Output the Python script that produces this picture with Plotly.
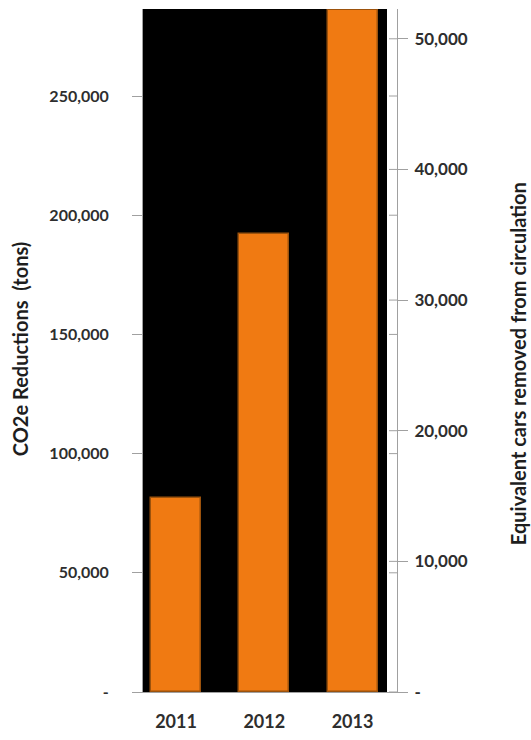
import plotly.graph_objects as go

# Annual CO2e reductions and the equivalent number of cars taken off the road
years = ["2011", "2012", "2013"]
co2e_tons = [81400, 192000, 286000]

left_ticks = [0, 50000, 100000, 150000, 200000, 250000]
left_labels = ["-", "50,000", "100,000", "150,000", "200,000", "250,000"]
right_ticks = [0, 10000, 20000, 30000, 40000, 50000]
right_labels = ["-", "10,000", "20,000", "30,000", "40,000", "50,000"]

W, H = 531, 740
L, R, T, B = 143, 397, 8.5, 694   # plot area in pixels
y_max = 286500
cars_max = 52280

font_family = "Lato, 'Open Sans', sans-serif"
txt = "#2e2e2e"
axis_grey = "#a0a0a0"

fig = go.Figure()
fig.add_trace(go.Bar(
    x=[0, 1, 2], y=co2e_tons, width=0.567,
    marker=dict(color="#F07A12", line=dict(color="#9c520c", width=1.5)),
    hoverinfo="x+y", showlegend=False,
))
# invisible trace so the secondary axis is drawn
fig.add_trace(go.Scatter(x=[0], y=[0], yaxis="y2", mode="markers",
                         marker=dict(opacity=0), showlegend=False, hoverinfo="skip"))

# black panel behind the bars, stopping short of the right axis
fig.add_shape(type="rect", xref="x domain", yref="y domain",
              x0=0, x1=(387 - L) / (R - L), y0=0, y1=1,
              fillcolor="black", line_width=0, layer="below")

# primary-axis tick marks repeated on the inner side of the right axis line
for v in left_ticks[1:]:
    fig.add_shape(type="line", xref="x domain", yref="y",
                  x0=(389 - L) / (R - L), x1=1, y0=v, y1=v,
                  line=dict(color=axis_grey, width=1))
# right-axis ticks also cross to the inside
for v in right_ticks:
    fig.add_shape(type="line", xref="x domain", yref="y2",
                  x0=(389 - L) / (R - L), x1=1, y0=v, y1=v,
                  line=dict(color=axis_grey, width=1))

fig.update_layout(
    width=W, height=H,
    margin=dict(l=L, r=W - R, t=T, b=H - B, pad=0),
    paper_bgcolor="white", plot_bgcolor="white",
    bargap=0,
    xaxis=dict(
        range=[-0.374, 2.504], tickvals=[0, 1, 2], ticktext=years,
        showgrid=False, zeroline=False, showline=True,
        linecolor=axis_grey, linewidth=1, ticks="",
        tickfont=dict(family=font_family, size=18, color=txt, weight="bold"),
        ticklabelstandoff=13, fixedrange=True,
    ),
    yaxis=dict(
        range=[0, y_max], tickvals=left_ticks, ticktext=left_labels,
        showgrid=False, zeroline=False, showline=True,
        linecolor=axis_grey, linewidth=1,
        ticks="outside", ticklen=10, tickcolor=axis_grey,
        tickfont=dict(family=font_family, size=16, color=txt, weight="bold"),
        ticklabelstandoff=20, fixedrange=True,
    ),
    yaxis2=dict(
        range=[0, cars_max], tickvals=right_ticks, ticktext=right_labels,
        overlaying="y", side="right", anchor="x",
        showgrid=False, zeroline=False, showline=True,
        linecolor=axis_grey, linewidth=1,
        ticks="outside", ticklen=10, tickcolor=axis_grey,
        tickfont=dict(family=font_family, size=17, color=txt, weight="bold"),
        ticklabelstandoff=3, fixedrange=True,
    ),
    annotations=[
        dict(text="CO2e Reductions\u00a0\u00a0(tons)", xref="paper", yref="paper",
             x=(20 - L) / (R - L), y=(B - 350) / (B - T), textangle=-90,
             showarrow=False, xanchor="center", yanchor="middle",
             font=dict(family=font_family, size=20, color="#1e1e1e", weight="bold")),
        dict(text="Equivalent cars removed from circulation", xref="paper", yref="paper",
             x=(518 - L) / (R - L), y=(B - 365) / (B - T), textangle=-90,
             showarrow=False, xanchor="center", yanchor="middle",
             font=dict(family=font_family, size=20, color="#1e1e1e", weight="bold")),
    ],
)

fig.write_html("out.html")
